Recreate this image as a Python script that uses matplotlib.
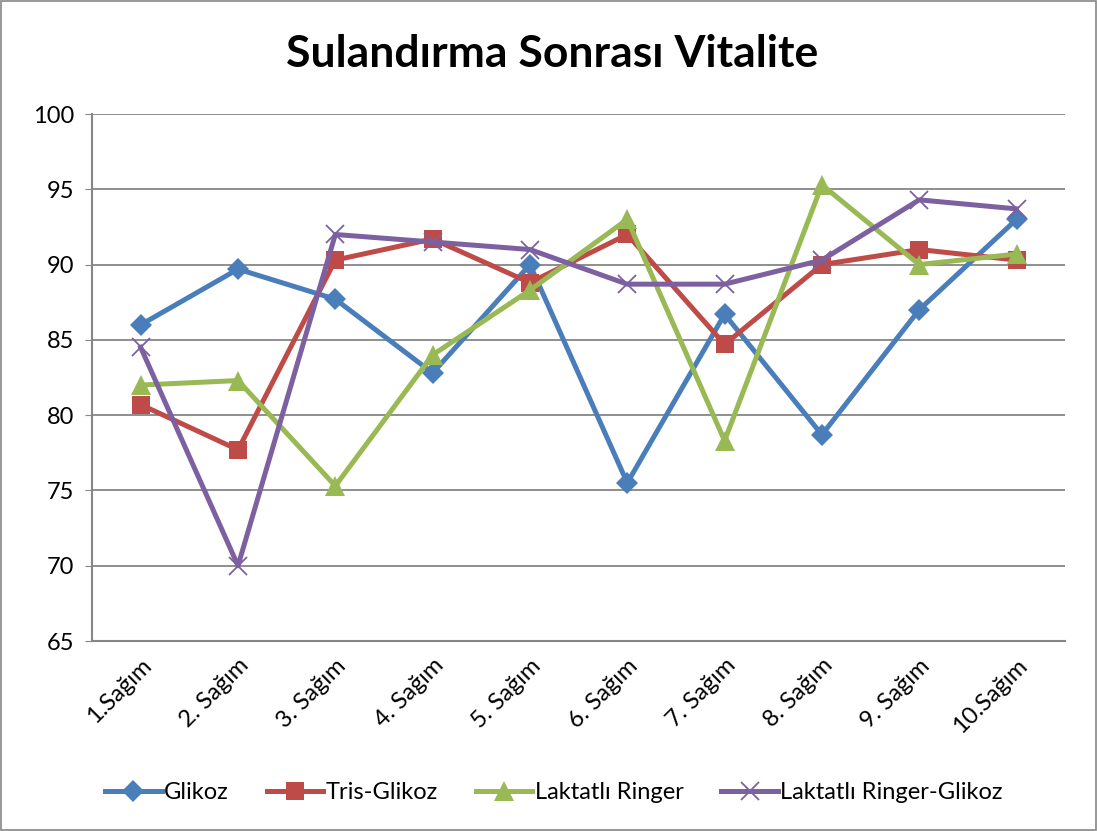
import matplotlib
matplotlib.use("Agg")
import matplotlib.pyplot as plt
from matplotlib.patches import Rectangle

plt.rcParams["font.family"] = ["Lato", "DejaVu Sans"]

categories = ["1.Sağım", "2. Sağım", "3. Sağım", "4. Sağım", "5. Sağım",
              "6. Sağım", "7. Sağım", "8. Sağım", "9. Sağım", "10.Sağım"]

glikoz = [86.0, 89.7, 87.7, 82.8, 90.0, 75.5, 86.7, 78.7, 87.0, 93.0]
tris_glikoz = [80.7, 77.7, 90.3, 91.7, 88.8, 92.0, 84.7, 90.0, 91.0, 90.3]
laktatli_ringer = [82.0, 82.3, 75.3, 84.0, 88.3, 93.0, 78.3, 95.3, 90.0, 90.7]
laktatli_ringer_glikoz = [84.5, 70.0, 92.0, 91.5, 91.0, 88.7, 88.7, 90.3, 94.3, 93.7]

series = [
    ("Glikoz", glikoz, "#4A7EBB", "D", 11),
    ("Tris-Glikoz", tris_glikoz, "#BE4B48", "s", 13),
    ("Laktatlı Ringer", laktatli_ringer, "#98B954", "^", 14),
    ("Laktatlı Ringer-Glikoz", laktatli_ringer_glikoz, "#7D60A0", "x", 13),
]

fig = plt.figure(figsize=(10.97, 8.31), dpi=100)
ax = fig.add_axes([0.0839, 0.2286, 0.8871, 0.6342])

x = list(range(len(categories)))
for name, vals, color, marker, ms in series:
    ax.plot(x, vals, color=color, linewidth=3.6, marker=marker, markersize=ms,
            markeredgewidth=1.3 if marker == "x" else 0, markeredgecolor=color,
            label=name)

ax.set_ylim(65, 100)
ax.set_yticks(range(65, 101, 5))
ax.set_xlim(-0.5, len(categories) - 0.5)
ax.set_xticks(x)
ax.set_xticklabels(categories, rotation=45, ha="right", va="top",
                   rotation_mode="anchor", fontsize=17)
ax.tick_params(axis="y", labelsize=17, length=5, color="#868686", pad=8)
ax.tick_params(axis="x", length=0, pad=10)
ax.grid(axis="y", color="#868686", linewidth=1.3)
ax.set_axisbelow(True)
for side in ["top", "right"]:
    ax.spines[side].set_visible(False)
for side in ["left", "bottom"]:
    ax.spines[side].set_color("#868686")
    ax.spines[side].set_linewidth(1.5)

fig.text(0.503, 0.935, "Sulandırma Sonrası Vitalite", ha="center", va="center",
         fontsize=32, fontweight="bold")

fig.legend(loc="center", bbox_to_anchor=(0.505, 0.046), ncol=4, frameon=False,
           fontsize=17, handlelength=2.4, columnspacing=1.6, handletextpad=0.1)

fig.patches.append(Rectangle((0.001, 0.001), 0.998, 0.998, transform=fig.transFigure,
                             fill=False, edgecolor="#868686", linewidth=1.2))

fig.savefig("out.png", dpi=100)
